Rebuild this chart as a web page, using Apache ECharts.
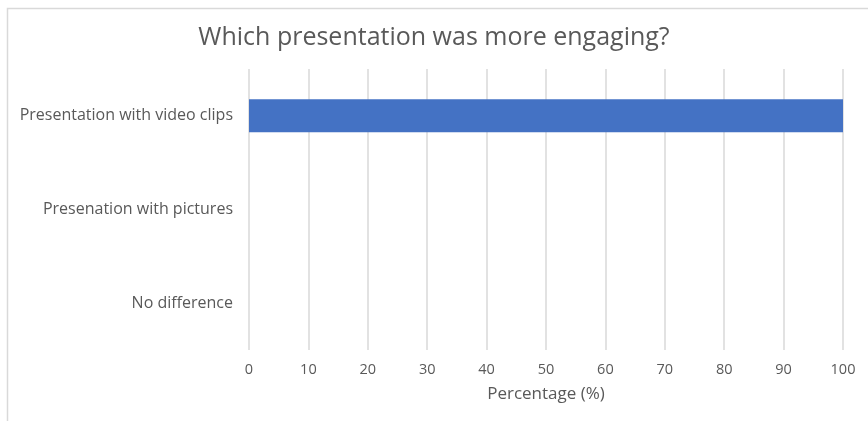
<!DOCTYPE html>
<html>
<head>
<meta charset="utf-8">
<script src="https://cdn.jsdelivr.net/npm/echarts@6/dist/echarts.min.js"></script>
<style>
  html, body { margin: 0; padding: 0; background: #ffffff; }
  #chart { width: 868px; height: 421px; }
</style>
</head>
<body>
<div id="chart"></div>
<script>
// Survey answers, listed bottom to top as drawn on the category axis
const categories = ['No difference', 'Presenation with pictures', 'Presentation with video clips'];
const percentages = [0, 0, 100];
const xTicks = [0, 10, 20, 30, 40, 50, 60, 70, 80, 90, 100];

const chart = echarts.init(document.getElementById('chart'));
const font = '"Open Sans", sans-serif';

chart.setOption({
  animation: false,
  graphic: [{
    type: 'rect',
    shape: { x: 7.5, y: 8.5, width: 900, height: 430 },
    style: { fill: 'none', stroke: '#d9d9d9', lineWidth: 1.5 },
    silent: true
  }],
  title: {
    text: 'Which presentation was more engaging?',
    left: 'center',
    top: 20,
    textStyle: { fontFamily: font, fontSize: 25, fontWeight: 'normal', color: '#595959' }
  },
  grid: { left: 249, right: 25, top: 69, bottom: 71 },
  xAxis: {
    type: 'value',
    min: xTicks[0],
    max: xTicks[xTicks.length - 1],
    interval: 10,
    name: 'Percentage (%)',
    nameLocation: 'middle',
    nameGap: 36,
    nameTextStyle: { fontFamily: font, fontSize: 17, color: '#595959' },
    axisLine: { show: false },
    axisTick: { show: false },
    axisLabel: { fontFamily: font, fontSize: 14.5, color: '#595959', margin: 12 },
    splitLine: { show: true, lineStyle: { color: '#d9d9d9', width: 1.5 } }
  },
  yAxis: {
    type: 'category',
    data: categories,
    axisLine: { show: false },
    axisTick: { show: false },
    axisLabel: { fontFamily: font, fontSize: 16, color: '#595959', margin: 16 },
    splitLine: { show: false }
  },
  series: [{
    type: 'bar',
    data: percentages,
    barWidth: 33,
    itemStyle: { color: '#4472c4' }
  }]
});
</script>
</body>
</html>
